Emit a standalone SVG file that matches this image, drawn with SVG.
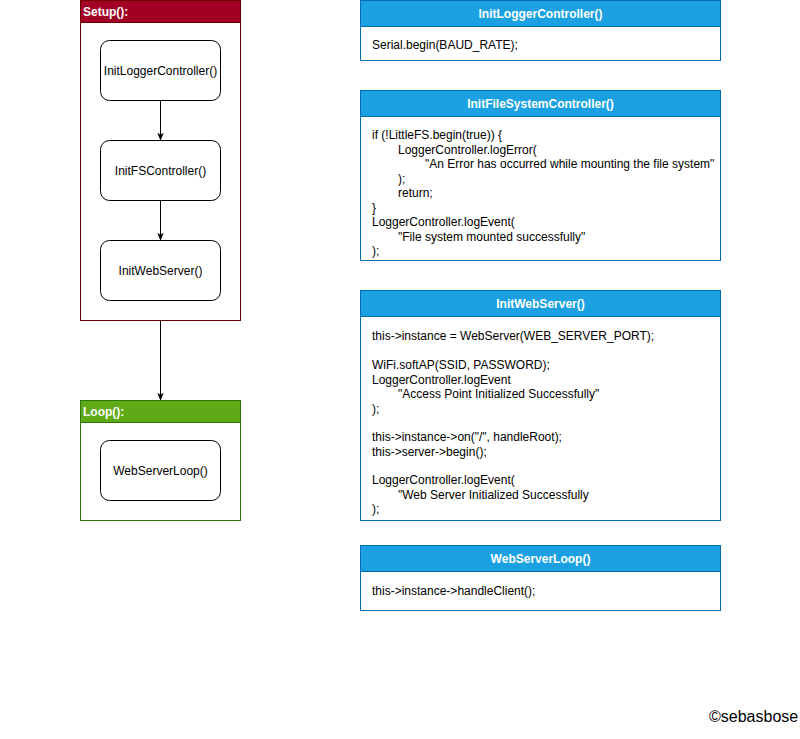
<svg xmlns="http://www.w3.org/2000/svg" width="800" height="739" viewBox="0 0 800 739">
<style>
text{font-family:"Liberation Sans",Arial,sans-serif;font-size:12px;fill:#000}
.hd{font-weight:bold;fill:#fff}
.ctr{text-anchor:middle}
.node{fill:#fff;stroke:#000;stroke-width:1}
.blue{fill:#1ba1e2;stroke:#006eaf}
.bbody{fill:#fff;stroke:#006eaf}
.edge{stroke:#000;stroke-width:1;fill:none}
</style>
<defs>
<marker id="ah" viewBox="0 0 10 10" refX="9" refY="5" markerWidth="8" markerHeight="8" orient="auto" markerUnits="userSpaceOnUse">
<path d="M0,1 L10,5 L0,9 L2.5,5 Z" fill="#000"/>
</marker>
</defs>
<rect width="800" height="739" fill="#fff"/>

<g id="setup">
<rect x="80.5" y="0.5" width="160" height="320" fill="#fff" stroke="#6f0000"/>
<rect x="80.5" y="0.5" width="160" height="22" fill="#a20025" stroke="#6f0000"/>
<text class="hd" x="83" y="16">Setup():</text>
</g>
<g id="loop">
<rect x="80.5" y="400.5" width="160" height="120" fill="#fff" stroke="#2d7600"/>
<rect x="80.5" y="400.5" width="160" height="22" fill="#60a917" stroke="#2d7600"/>
<text class="hd" x="83" y="416">Loop():</text>
</g>

<g id="n-initlogger">
<rect class="node" x="100.5" y="40.5" width="120" height="60" rx="9"/>
<text class="ctr" x="160.5" y="75">InitLoggerController()</text>
</g>
<g id="n-initfs">
<rect class="node" x="100.5" y="140.5" width="120" height="60" rx="9"/>
<text class="ctr" x="160.5" y="175">InitFSController()</text>
</g>
<g id="n-initweb">
<rect class="node" x="100.5" y="240.5" width="120" height="60" rx="9"/>
<text class="ctr" x="160.5" y="275">InitWebServer()</text>
</g>
<g id="n-webloop">
<rect class="node" x="100.5" y="440.5" width="120" height="60" rx="9"/>
<text class="ctr" x="160.5" y="475">WebServerLoop()</text>
</g>

<g id="connectors">
<line class="edge" x1="160.5" y1="100.5" x2="160.5" y2="140" marker-end="url(#ah)"/>
<line class="edge" x1="160.5" y1="200.5" x2="160.5" y2="240" marker-end="url(#ah)"/>
<line class="edge" x1="160.5" y1="320.5" x2="160.5" y2="400" marker-end="url(#ah)"/>
</g>

<g id="p-initlogger">
<rect class="bbody" x="360.5" y="0.5" width="360" height="60"/>
<rect class="blue" x="360.5" y="0.5" width="360" height="26"/>
<text class="hd ctr" x="540.5" y="18">InitLoggerController()</text>
<text x="372" y="49">Serial.begin(BAUD_RATE);</text>
</g>

<g id="p-initfs">
<rect class="bbody" x="360.5" y="90.5" width="360" height="170"/>
<rect class="blue" x="360.5" y="90.5" width="360" height="26"/>
<text class="hd ctr" x="540.5" y="108">InitFileSystemController()</text>
<text x="372" y="139">if (!LittleFS.begin(true)) {</text>
<text x="398" y="153.5">LoggerController.logError(</text>
<text x="425" y="168">"An Error has occurred while mounting the file system"</text>
<text x="398" y="182.5">);</text>
<text x="398" y="197">return;</text>
<text x="372" y="211.5">}</text>
<text x="372" y="226">LoggerController.logEvent(</text>
<text x="398" y="240.5">"File system mounted successfully"</text>
<text x="372" y="255">);</text>
</g>

<g id="p-initweb">
<rect class="bbody" x="360.5" y="290.5" width="360" height="230"/>
<rect class="blue" x="360.5" y="290.5" width="360" height="26"/>
<text class="hd ctr" x="540.5" y="308">InitWebServer()</text>
<text x="372" y="340">this-&gt;instance = WebServer(WEB_SERVER_PORT);</text>
<text x="372" y="369">WiFi.softAP(SSID, PASSWORD);</text>
<text x="372" y="383.5">LoggerController.logEvent</text>
<text x="398" y="398">"Access Point Initialized Successfully"</text>
<text x="372" y="412.5">);</text>
<text x="372" y="441">this-&gt;instance-&gt;on("/", handleRoot);</text>
<text x="372" y="455.5">this-&gt;server-&gt;begin();</text>
<text x="372" y="484">LoggerController.logEvent(</text>
<text x="398" y="498.5">"Web Server Initialized Successfully</text>
<text x="372" y="513">);</text>
</g>

<g id="p-webloop">
<rect class="bbody" x="360.5" y="545.5" width="360" height="65"/>
<rect class="blue" x="360.5" y="545.5" width="360" height="26"/>
<text class="hd ctr" x="540.5" y="563">WebServerLoop()</text>
<text x="372" y="595">this-&gt;instance-&gt;handleClient();</text>
</g>

<text x="709" y="722" style="font-size:16px">©sebasbose</text>
</svg>
